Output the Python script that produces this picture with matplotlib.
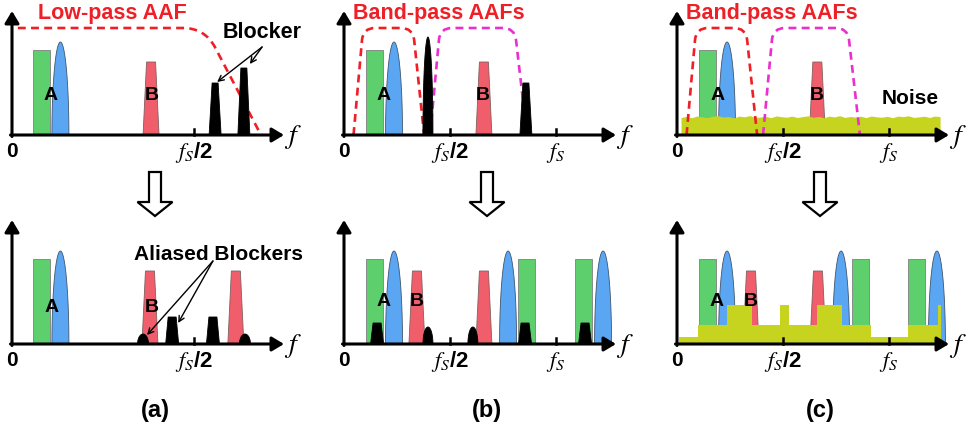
import numpy as np
import matplotlib.pyplot as plt
from matplotlib.patches import PathPatch, FancyArrow
from matplotlib.path import Path

plt.rcParams['font.family'] = ['Liberation Sans', 'DejaVu Sans']
plt.rcParams['mathtext.fontset'] = 'stix'

W, H = 973, 429

GREEN = '#5dcf6c'
BLUE = '#5ba6f2'
RED = '#f05e6c'
NOISE = '#c6d420'
AAF_RED = '#ee1f26'
AAF_PINK = '#ea2fcf'

# heights (same units in all panels)
H_GREEN, H_BLUE, H_RED, H_AAF = 85, 93, 73, 107

# ---- panel (a): low-pass AAF, frequencies in units of fs ----
a_green = [0.081]
a_blue = [0.133]
a_red_top = [0.382]
a_blockers = [0.558, 0.637]
a_blocker_h = [52, 67]
a_lpf = (None, 0.016, 0.530, 0.684)
a_green_bot = [0.081]
a_blue_bot = [0.133]
a_red_bot = [0.379, 0.615]
a_alias_trap = [0.440, 0.552]
a_alias_trap_h = 27
a_alias_dot = [0.360, 0.640]
a_alias_dot_h = 10

# ---- panel (b): band-pass AAFs ----
b_green_top = [0.144]
b_blue_top = [0.236]
b_spike = [0.396]
b_spike_h = 98
b_red_top = [0.660]
b_blocker = [0.858]
b_blocker_h = 52
bpf1 = (0.045, 0.090, 0.325, 0.378)
bpf2 = (0.406, 0.453, 0.805, 0.863)
b_green_bot = [0.144, 0.863, 1.132]
b_blue_bot = [0.236, 0.774, 1.222]
b_red_bot = [0.344, 0.660]
b_trap_bot = [0.156, 0.854, 1.137]
b_trap_h = 21
b_dome_bot = [0.396, 0.608]
b_dome_h = 17

# ---- panel (c): band-pass AAFs with noise ----
c_green_top = [0.144]
c_blue_top = [0.236]
c_red_top = [0.662]
c_noise_span = (0.019, 1.241)
c_noise_top = [17.5, 18.6, 17.2, 19.0, 18.1, 17.4, 18.8, 19.3, 17.9, 18.4,
               17.1, 18.9, 18.2, 19.4, 17.6, 18.0, 18.7, 17.3, 19.1, 18.3,
               17.8, 18.9, 17.5, 18.4, 19.2, 17.7, 18.6, 17.2, 18.9, 18.1,
               19.3, 17.6, 18.5, 17.9, 18.8, 17.4, 19.0, 18.2, 17.8, 18.7,
               17.3, 18.9, 18.4, 19.2, 17.6, 18.1, 18.8, 17.5, 19.0, 18.3]
c_green_bot = [0.144, 0.866, 1.130]
c_blue_bot = [0.236, 0.774, 1.226]
c_red_bot = [0.349, 0.665]
c_noise_edges = [0.010, 0.099, 0.236, 0.354, 0.486, 0.528, 0.660, 0.778,
                 0.915, 1.090, 1.231, 1.245]
c_noise_levels = [7, 19, 39, 19, 39, 19, 39, 19, 7, 19, 39]

fig = plt.figure(figsize=(W / 100, H / 100), dpi=100)

# overlay for the big hollow arrows and panel labels
ov = fig.add_axes([0, 0, 1, 1])
ov.set_xlim(0, W)
ov.set_ylim(H, 0)
ov.axis('off')
for cx, lab in zip([155, 487, 820], ['(a)', '(b)', '(c)']):
    ov.add_patch(FancyArrow(cx, 172, 0, 44, width=12, head_width=35, head_length=14,
                            length_includes_head=True, fc='white', ec='k', lw=1.6))
    ov.text(cx, 411, lab, ha='center', va='center', fontsize=17, fontweight='bold')


def panel(x0, y0, s, ticks):
    ax = fig.add_axes([(x0 - 20) / W, 1 - (y0 + 30) / H, 330 / W, 165 / H])
    ax.set_xlim(-20 / s, 310 / s)
    ax.set_ylim(-30, 135)
    ax.axis('off')
    ap = dict(arrowstyle='-|>,head_length=0.6,head_width=0.36', lw=2.2, color='k',
              mutation_scale=12, shrinkA=0, shrinkB=0)
    ax.annotate('', xy=(0, 124), xytext=(0, -1.5), arrowprops=ap, zorder=5)
    ax.annotate('', xy=(272 / s, 0), xytext=(-1.5 / s, 0), arrowprops=ap, zorder=5)
    ax.text(281 / s, -2, '$f$', fontsize=20, ha='center', va='center', zorder=6)
    ax.text(0, -22, '0', fontsize=15, fontweight='bold', ha='center', va='baseline')
    for t, lab in ticks:
        ax.plot([t, t], [0, 6], color='k', lw=1.8, zorder=5)
        ax.text(t, -23, lab, fontsize=16, fontweight='bold', ha='center', va='baseline')
    return ax


def green(ax, s, xs):
    ax.bar(xs, H_GREEN, width=17 / s, color=GREEN, edgecolor='#808080', lw=0.6, zorder=2)


def half_ellipse(ax, s, xs, h, hw, fc, ec, z):
    t = np.linspace(0, np.pi, 80)
    for x in xs:
        ax.fill(x + hw / s * np.cos(t), h * np.sin(t), fc=fc, ec=ec, lw=0.6, zorder=z)


def trap(ax, s, xs, h, bw, tw, fc, ec, z):
    for x in xs:
        ax.fill([x - bw / s, x - tw / s, x + tw / s, x + bw / s], [0, h, h, 0],
                fc=fc, ec=ec, lw=0.6, zorder=z)


def blue(ax, s, xs):
    half_ellipse(ax, s, xs, H_BLUE, 8.5, BLUE, '#40556e', 2)


def red(ax, s, xs):
    trap(ax, s, xs, H_RED, 8, 4.5, RED, '#806060', 2)


def aaf(ax, s, pts, color, r=12):
    bl, tl, tr, br = pts
    L = H_AAF
    if bl is None:
        verts, codes = [(tl, L)], [Path.MOVETO]
    else:
        dx, dy = (bl - tl) * s, -L
        n = np.hypot(dx, dy)
        verts = [(bl, 0), (tl + r * dx / n / s, L + r * dy / n), (tl, L), (tl + r / s, L)]
        codes = [Path.MOVETO, Path.LINETO, Path.CURVE3, Path.CURVE3]
    dx, dy = (br - tr) * s, -L
    n = np.hypot(dx, dy)
    verts += [(tr - r / s, L), (tr, L), (tr + r * dx / n / s, L + r * dy / n), (br, 0)]
    codes += [Path.LINETO, Path.CURVE3, Path.CURVE3, Path.LINETO]
    ax.add_patch(PathPatch(Path(verts, codes), fill=False, ec=color, lw=1.9,
                           ls=(0, (3, 2)), zorder=3))


def label(ax, x, y, txt, size=14, color='k'):
    ax.text(x, y, txt, fontsize=size, fontweight='bold', ha='center', va='center',
            color=color, zorder=6)


arrow_thin = dict(arrowstyle='->', lw=1.0, color='k', mutation_scale=10, shrinkA=0, shrinkB=0)

# ---------------- (a) top ----------------
s = 364
ax = panel(12, 135, s, [(0.5, '$f_S$/2')])
green(ax, s, a_green)
blue(ax, s, a_blue)
red(ax, s, a_red_top)
for x, h in zip(a_blockers, a_blocker_h):
    trap(ax, s, [x], h, 6, 3, 'k', 'k', 3.5)
aaf(ax, s, a_lpf, AAF_RED, r=22)
label(ax, 0.107, 40, 'A')
label(ax, 0.385, 40, 'B')
label(ax, 0.275, 122, 'Low-pass AAF', 15.5, AAF_RED)
label(ax, 0.687, 102, 'Blocker', 15.5)
for (x, h), (ox, oy) in zip(zip(a_blockers, a_blocker_h), [(2, 1), (6, 4)]):
    ax.annotate('', xy=(x + ox / s, h + oy), xytext=(0.687, 88), arrowprops=arrow_thin, zorder=6)

# ---------------- (a) bottom ----------------
ax = panel(12, 344, s, [(0.5, '$f_S$/2')])
green(ax, s, a_green_bot)
blue(ax, s, a_blue_bot)
red(ax, s, a_red_bot)
trap(ax, s, a_alias_trap, a_alias_trap_h, 6.5, 4, 'k', 'k', 3.5)
half_ellipse(ax, s, a_alias_dot, a_alias_dot_h, 5.5, 'k', 'k', 3.5)
label(ax, 0.110, 37, 'A')
label(ax, 0.385, 37, 'B')
label(ax, 0.566, 90, 'Aliased Blockers', 15)
ax.annotate('', xy=(a_alias_dot[0] + 4 / s, a_alias_dot_h - 1), xytext=(0.552, 83),
            arrowprops=arrow_thin, zorder=6)
ax.annotate('', xy=(a_alias_trap[0] + 6 / s, a_alias_trap_h - 6), xytext=(0.552, 83),
            arrowprops=arrow_thin, zorder=6)

# ---------------- (b) top ----------------
s = 212
fs_ticks = [(0.5, '$f_S$/2'), (1.0, '$f_S$')]
ax = panel(344, 135, s, fs_ticks)
green(ax, s, b_green_top)
blue(ax, s, b_blue_top)
red(ax, s, b_red_top)
half_ellipse(ax, s, b_spike, b_spike_h, 5, 'k', 'k', 3.5)
trap(ax, s, b_blocker, b_blocker_h, 6, 3, 'k', 'k', 3.5)
aaf(ax, s, bpf1, AAF_RED)
aaf(ax, s, bpf2, AAF_PINK)
label(ax, 0.189, 40, 'A')
label(ax, 0.656, 40, 'B')
label(ax, 0.448, 122, 'Band-pass AAFs', 15.5, AAF_RED)

# ---------------- (b) bottom ----------------
ax = panel(344, 344, s, fs_ticks)
green(ax, s, b_green_bot)
blue(ax, s, b_blue_bot)
red(ax, s, b_red_bot)
trap(ax, s, b_trap_bot, b_trap_h, 6.5, 4, 'k', 'k', 3.5)
half_ellipse(ax, s, b_dome_bot, b_dome_h, 5, 'k', 'k', 3.5)
label(ax, 0.189, 42, 'A')
label(ax, 0.344, 42, 'B')

# ---------------- (c) top ----------------
ax = panel(677, 135, s, fs_ticks)
green(ax, s, c_green_top)
blue(ax, s, c_blue_top)
red(ax, s, c_red_top)
xn = np.linspace(c_noise_span[0], c_noise_span[1], len(c_noise_top))
ax.fill_between(xn, 0, c_noise_top, color=NOISE, lw=0, zorder=2.5)
aaf(ax, s, bpf1, AAF_RED)
aaf(ax, s, bpf2, AAF_PINK)
label(ax, 0.193, 40, 'A')
label(ax, 0.660, 40, 'B')
label(ax, 0.448, 122, 'Band-pass AAFs', 15.5, AAF_RED)
label(ax, 1.099, 37, 'Noise', 15)

# ---------------- (c) bottom ----------------
ax = panel(677, 344, s, fs_ticks)
green(ax, s, c_green_bot)
blue(ax, s, c_blue_bot)
red(ax, s, c_red_bot)
ax.stairs(c_noise_levels, c_noise_edges, fill=True, color=NOISE, zorder=2.5)
label(ax, 0.189, 42, 'A')
label(ax, 0.349, 42, 'B')

fig.savefig('out.png', dpi=100)
